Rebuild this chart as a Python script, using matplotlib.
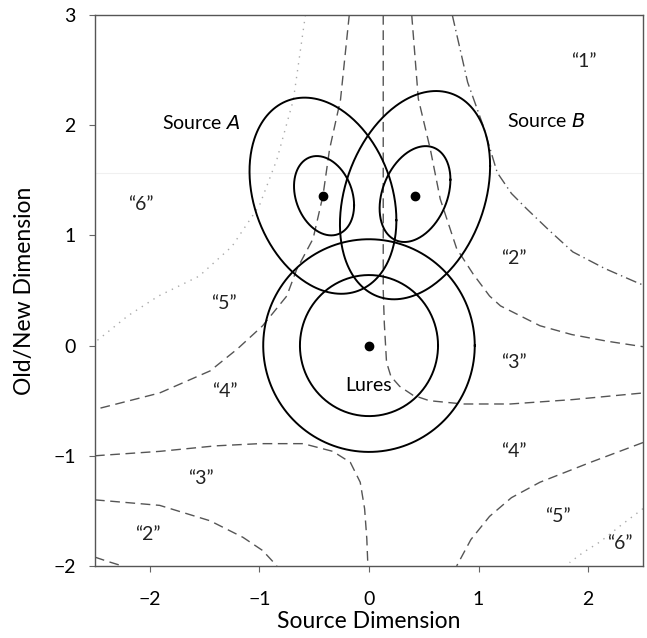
import numpy as np
import matplotlib
matplotlib.use("Agg")
import matplotlib.pyplot as plt

plt.rcParams['font.family'] = ['Lato', 'DejaVu Sans']

# distribution contours: centre, sd along x, sd along y, correlation
contour_names = ["A outer", "A inner", "B outer", "B inner", "L outer", "L inner"]
contour_cx = [-0.42, -0.41, 0.42, 0.42, 0.0, 0.0]
contour_cy = [1.36, 1.36, 1.365, 1.375, 0.0, 0.0]
contour_sx = [0.67, 0.274, 0.685, 0.323, 0.965, 0.63]
contour_sy = [0.89, 0.36, 0.945, 0.435, 0.965, 0.64]
contour_rho = [-0.25, -0.24, 0.28, 0.3, 0.0, 0.0]

means_x = [-0.42, 0.42, 0.0]
means_y = [1.36, 1.36, 0.0]

# response criteria boundaries (x, y points)
crit_6_5_left = ([-0.58, -0.69, -0.84, -1.0, -1.25, -1.55, -1.92, -2.2, -2.5],
                 [3.0, 2.23, 1.69, 1.27, 0.9, 0.63, 0.45, 0.27, 0.03])
crit_5_4_left = ([-0.18, -0.26, -0.36, -0.42, -0.51, -0.66, -0.75, -0.97, -1.2, -1.45, -1.91, -2.5],
                 [3.0, 2.23, 1.78, 1.36, 0.97, 0.69, 0.45, 0.18, -0.03, -0.23, -0.43, -0.58])
crit_3_4 = ([0.13, 0.13, 0.13, 0.14, 0.16, 0.2, 0.28, 0.4, 0.55, 0.86, 1.29, 1.86, 2.5],
            [3.0, 1.5, 0.5, 0.2, -0.15, -0.28, -0.37, -0.45, -0.5, -0.53, -0.53, -0.49, -0.43])
crit_2_3 = ([0.39, 0.45, 0.56, 0.65, 0.8, 0.95, 1.1, 1.2, 1.56, 1.85, 2.17, 2.5],
            [3.0, 2.24, 1.78, 1.33, 0.88, 0.65, 0.45, 0.36, 0.18, 0.1, 0.04, -0.01])
crit_1_2 = ([0.76, 0.9, 1.04, 1.17, 1.3, 1.44, 1.65, 1.86, 2.15, 2.45, 2.5],
            [3.0, 2.39, 2.0, 1.57, 1.38, 1.24, 1.04, 0.85, 0.7, 0.57, 0.55])
crit_4_3_left = ([-2.5, -1.91, -1.4, -1.0, -0.6, -0.33, -0.17, -0.08, -0.04, -0.02, -0.01],
                 [-1.0, -0.96, -0.91, -0.89, -0.89, -0.96, -1.06, -1.24, -1.48, -1.75, -2.0])
crit_3_2_left = ([-2.5, -1.91, -1.45, -1.15, -0.97, -0.84],
                 [-1.4, -1.45, -1.59, -1.74, -1.86, -2.0])
crit_2_1_left = ([-2.5, -2.38, -2.25], [-1.92, -1.96, -2.0])
crit_4_5_right = ([2.5, 2.02, 1.56, 1.3, 1.1, 0.93, 0.8],
                  [-0.88, -1.06, -1.24, -1.38, -1.55, -1.76, -2.0])
crit_5_6_right = ([2.5, 2.3, 2.11, 1.95, 1.83], [-1.48, -1.63, -1.78, -1.88, -1.97])

region_labels = ["\u201c1\u201d", "\u201c2\u201d", "\u201c3\u201d", "\u201c4\u201d", "\u201c5\u201d", "\u201c6\u201d",
                 "\u201c6\u201d", "\u201c5\u201d", "\u201c4\u201d", "\u201c3\u201d", "\u201c2\u201d"]
region_x = [1.96, 1.32, 1.32, 1.32, 1.72, 2.29, -2.08, -1.32, -1.32, -1.53, -2.02]
region_y = [2.58, 0.79, -0.15, -0.96, -1.55, -1.8, 1.28, 0.38, -0.42, -1.21, -1.71]

fig = plt.figure(figsize=(6.47, 6.38), dpi=100)
ax = fig.add_axes([0.1468, 0.1129, 0.847, 0.8636])

# faint scan line across the plot
ax.axhline(1.565, color="#f0f0f0", lw=0.8, zorder=0)

t = np.linspace(0, 2 * np.pi, 300)
for cx, cy, sx, sy, r in zip(contour_cx, contour_cy, contour_sx, contour_sy, contour_rho):
    ex = cx + sx * np.cos(t)
    ey = cy + sy * (r * np.cos(t) + np.sqrt(1 - r * r) * np.sin(t))
    ax.plot(ex, ey, color="black", lw=1.4, zorder=3)

ax.plot(means_x, means_y, "o", color="black", ms=6, zorder=4)

dash = dict(color="#555555", lw=1.0, dashes=(7, 4), zorder=2)
for xs, ys in [crit_5_4_left, crit_3_4, crit_2_3, crit_4_3_left, crit_3_2_left,
               crit_2_1_left, crit_4_5_right]:
    ax.plot(xs, ys, **dash)
ax.plot(*crit_1_2, color="#555555", lw=1.0, dashes=(8, 3, 1, 3), zorder=2)
for xs, ys in [crit_6_5_left, crit_5_6_right]:
    ax.plot(xs, ys, color="#aaaaaa", lw=1.0, dashes=(1, 4), zorder=2)

for s, x, y in zip(region_labels, region_x, region_y):
    ax.text(x, y, s, ha="center", va="center", fontsize=14, color="#222222")

ax.text(-1.53, 2.02, "Source $\\mathit{A}$", ha="center", va="center", fontsize=14)
ax.text(1.62, 2.04, "Source $\\mathit{B}$", ha="center", va="center", fontsize=14)
ax.text(0.0, -0.36, "Lures", ha="center", va="center", fontsize=14)

ax.set_xlim(-2.5, 2.5)
ax.set_ylim(-2, 3)
ax.set_xticks([-2, -1, 0, 1, 2])
ax.set_yticks([-2, -1, 0, 1, 2, 3])
ax.tick_params(direction="out", length=4, width=0.8, color="#666666", labelsize=14,
               top=False, right=False)
ax.tick_params(axis="x", pad=14)
ax.tick_params(axis="y", pad=10)
for sp in ax.spines.values():
    sp.set_color("#555555")
    sp.set_linewidth(1.0)
ax.set_xlabel("Source Dimension", fontsize=16.5)
ax.set_ylabel("Old/New Dimension", fontsize=16.5)
ax.xaxis.set_label_coords(0.5, -0.082)
ax.yaxis.set_label_coords(-0.11, 0.5)

fig.savefig("out.png", dpi=100)
